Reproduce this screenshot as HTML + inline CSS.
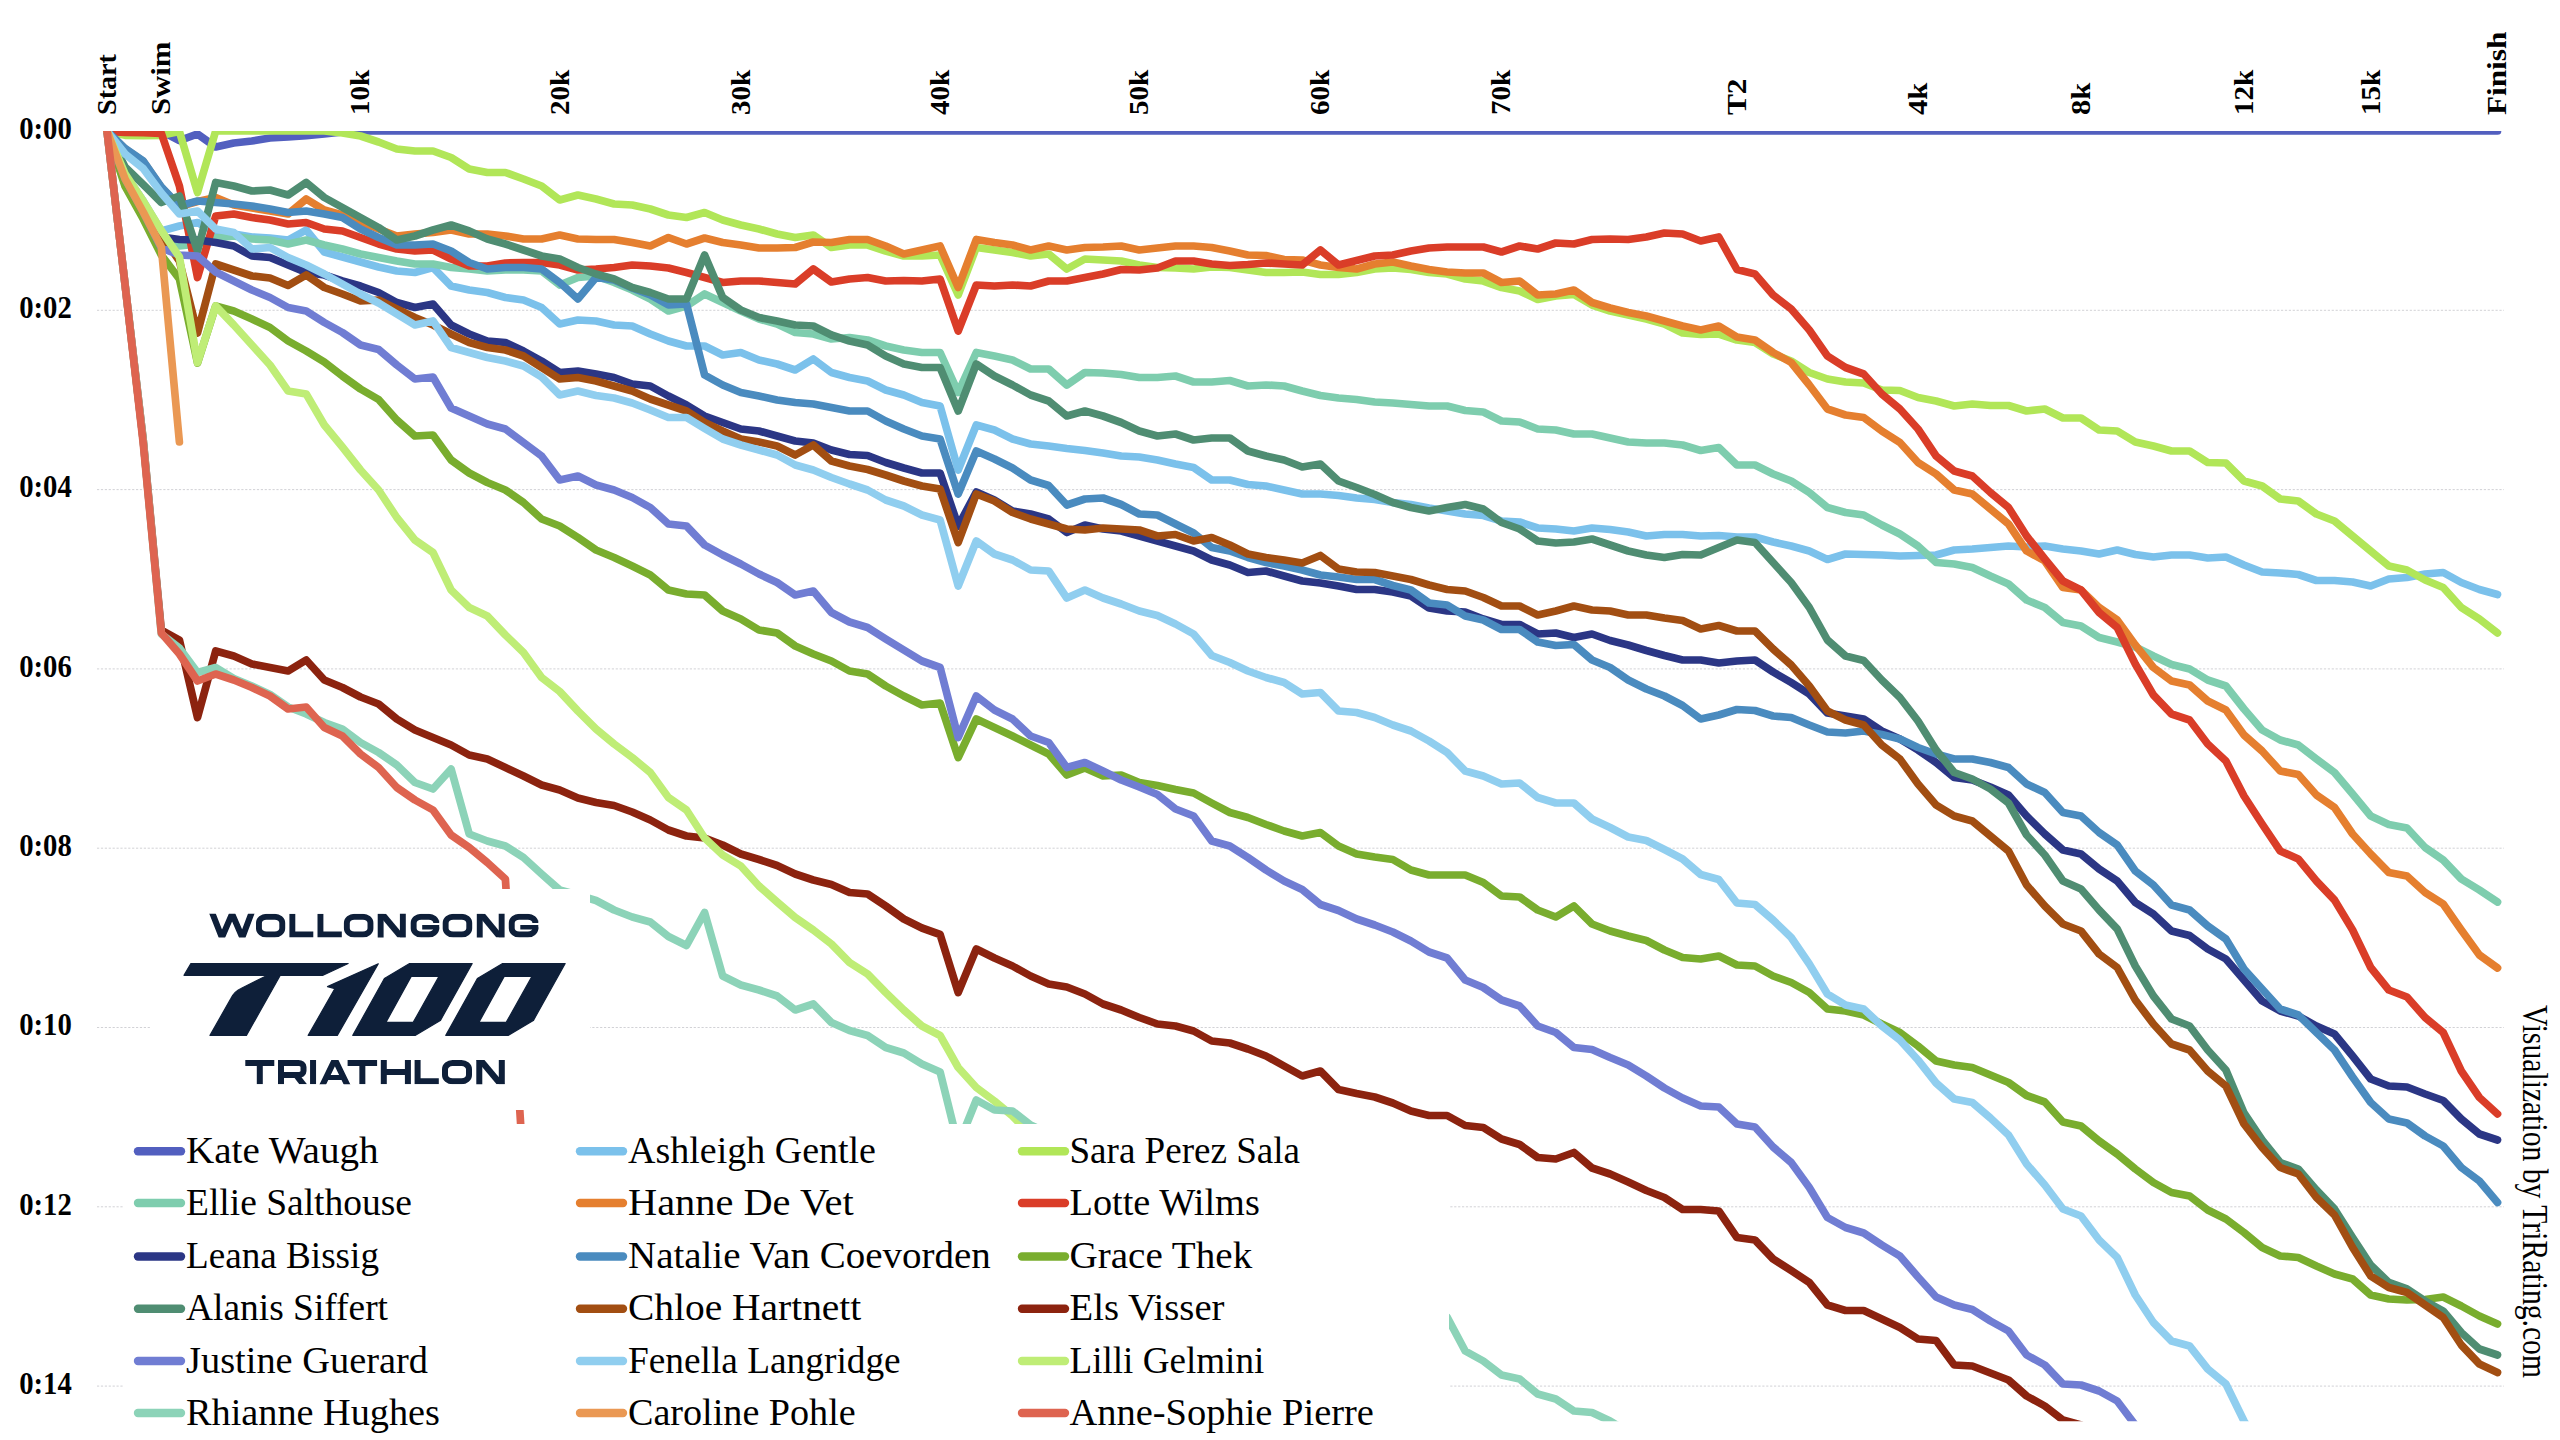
<!DOCTYPE html>
<html><head><meta charset="utf-8"><title>T100 Wollongong</title>
<style>
html,body{margin:0;padding:0;background:#fff}
body{width:2560px;height:1440px;overflow:hidden}
svg{display:block}
text{font-family:"Liberation Serif",serif}
.ax{font-weight:bold;font-size:28.2px;fill:#000}
.lg{font-size:38px;fill:#000}
</style></head><body>
<svg width="2560" height="1440" viewBox="0 0 2560 1440">
<defs><clipPath id="plot"><rect x="90" y="131" width="2420" height="1290.3"/></clipPath></defs>
<rect width="2560" height="1440" fill="#fff"/>
<g stroke="#cdcdd1" stroke-width="0.9" stroke-dasharray="2.2 1.7" fill="none">
<line x1="97" y1="310.3" x2="2504" y2="310.3"/>
<line x1="97" y1="489.6" x2="2504" y2="489.6"/>
<line x1="97" y1="668.9" x2="2504" y2="668.9"/>
<line x1="97" y1="848.2" x2="2504" y2="848.2"/>
<line x1="97" y1="1027.5" x2="2504" y2="1027.5"/>
<line x1="97" y1="1206.8" x2="2504" y2="1206.8"/>
<line x1="97" y1="1386.1" x2="2504" y2="1386.1"/>
</g>
<g clip-path="url(#plot)" fill="none" stroke-width="7.7" stroke-linecap="round" stroke-linejoin="round">
<polyline stroke="#525fbf" points="107.0,131.0 125.1,131.0 143.2,131.0 161.3,131.0 179.4,140.6 197.5,134.0 215.7,147.0 233.8,143.0 251.9,141.0 270.0,138.0 288.1,137.0 306.2,135.6 324.3,134.0 342.4,132.0 360.5,131.0 2497.5,131.0"/>
<polyline stroke="#7bc1eb" points="107.0,131.0 125.1,174.0 143.2,201.0 161.3,231.0 179.4,226.0 197.5,222.5 215.7,232.0 233.8,234.0 251.9,237.0 270.0,238.0 288.1,240.0 306.2,230.0 324.3,252.0 342.4,257.0 360.5,262.0 378.6,267.0 396.8,271.0 414.9,272.5 433.0,267.5 451.1,286.0 469.2,290.0 487.3,292.5 505.4,297.5 523.5,300.0 541.6,307.5 559.7,324.0 577.9,320.0 596.0,321.0 614.1,325.0 632.2,326.0 650.3,334.0 668.4,341.0 686.5,346.0 704.6,346.0 722.7,355.0 740.8,352.5 759.0,360.0 777.1,364.0 795.2,370.0 813.3,359.0 831.4,372.5 849.5,377.5 867.6,381.0 885.7,390.0 903.8,395.0 921.9,402.5 940.1,406.0 958.2,470.0 976.3,425.0 994.4,430.0 1012.5,439.0 1030.6,444.0 1048.7,446.0 1066.8,448.5 1084.9,450.5 1103.0,453.0 1121.2,456.0 1139.3,457.0 1157.4,460.0 1175.5,464.0 1193.6,467.5 1211.7,480.0 1229.8,480.0 1247.9,484.5 1266.0,486.0 1284.1,490.0 1302.2,494.0 1320.4,494.0 1338.5,495.5 1356.6,498.0 1374.7,499.5 1392.8,502.5 1410.9,504.5 1429.0,508.0 1447.1,511.0 1465.2,514.0 1483.3,515.5 1501.5,521.0 1519.6,522.0 1537.7,528.0 1555.8,529.0 1573.9,531.0 1592.0,528.0 1610.1,529.5 1628.2,532.0 1646.3,536.0 1664.4,534.5 1682.6,534.5 1700.7,536.0 1718.8,535.5 1736.9,537.0 1755.0,537.0 1773.1,542.0 1791.2,546.0 1809.3,551.0 1827.4,559.5 1845.5,554.0 1863.7,554.5 1881.8,555.0 1899.9,556.0 1918.0,555.5 1936.1,555.0 1954.2,550.0 1972.3,549.0 1990.4,547.5 2008.5,546.0 2026.6,547.0 2044.8,546.0 2062.9,549.0 2081.0,551.0 2099.1,554.0 2117.2,550.0 2135.3,554.5 2153.4,557.0 2171.5,555.0 2189.6,555.0 2207.7,558.0 2225.9,557.0 2244.0,565.0 2262.1,572.0 2280.2,573.0 2298.3,574.5 2316.4,580.5 2334.5,580.5 2352.6,582.0 2370.7,586.0 2388.8,579.0 2407.0,577.5 2425.1,574.0 2443.2,572.5 2461.3,582.5 2479.4,589.5 2497.5,594.5"/>
<polyline stroke="#b1e658" points="107.0,131.5 125.1,135.3 143.2,135.6 161.3,135.3 179.4,131.5 197.5,192.5 215.7,131.0 233.8,131.0 251.9,131.0 270.0,131.0 288.1,131.0 306.2,131.0 324.3,131.0 342.4,133.0 360.5,136.0 378.6,142.0 396.8,149.0 414.9,151.0 433.0,151.0 451.1,157.5 469.2,169.0 487.3,172.5 505.4,172.5 523.5,179.0 541.6,186.0 559.7,200.0 577.9,195.0 596.0,199.0 614.1,204.0 632.2,205.0 650.3,209.0 668.4,215.0 686.5,217.5 704.6,212.5 722.7,220.0 740.8,225.0 759.0,229.0 777.1,234.0 795.2,237.5 813.3,235.0 831.4,247.5 849.5,245.0 867.6,245.0 885.7,251.0 903.8,256.0 921.9,256.0 940.1,255.0 958.2,295.0 976.3,247.5 994.4,250.0 1012.5,252.5 1030.6,256.0 1048.7,254.0 1066.8,269.0 1084.9,259.0 1103.0,260.0 1121.2,261.0 1139.3,265.0 1157.4,267.5 1175.5,268.0 1193.6,269.0 1211.7,267.0 1229.8,267.5 1247.9,270.0 1266.0,272.5 1284.1,272.5 1302.2,272.0 1320.4,274.5 1338.5,274.5 1356.6,272.5 1374.7,269.0 1392.8,268.0 1410.9,269.5 1429.0,272.5 1447.1,274.0 1465.2,279.0 1483.3,281.0 1501.5,287.5 1519.6,291.0 1537.7,299.5 1555.8,296.0 1573.9,294.5 1592.0,305.0 1610.1,311.0 1628.2,315.0 1646.3,319.0 1664.4,324.0 1682.6,333.0 1700.7,334.5 1718.8,334.0 1736.9,340.0 1755.0,342.5 1773.1,354.0 1791.2,361.0 1809.3,372.5 1827.4,379.0 1845.5,382.0 1863.7,383.0 1881.8,390.0 1899.9,390.5 1918.0,397.5 1936.1,401.0 1954.2,406.0 1972.3,404.0 1990.4,405.5 2008.5,405.5 2026.6,411.0 2044.8,409.0 2062.9,418.0 2081.0,418.0 2099.1,430.0 2117.2,431.0 2135.3,442.0 2153.4,446.0 2171.5,451.0 2189.6,451.0 2207.7,462.5 2225.9,463.0 2244.0,481.0 2262.1,486.0 2280.2,499.0 2298.3,501.0 2316.4,514.0 2334.5,521.0 2352.6,536.0 2370.7,551.0 2388.8,566.0 2407.0,570.0 2425.1,580.0 2443.2,587.5 2461.3,607.5 2479.4,619.0 2497.5,633.0"/>
<polyline stroke="#7ecdae" points="107.0,131.0 125.1,179.0 143.2,212.0 161.3,244.0 179.4,246.0 197.5,244.0 215.7,238.0 233.8,236.0 251.9,239.0 270.0,240.0 288.1,244.0 306.2,240.0 324.3,245.0 342.4,249.0 360.5,254.0 378.6,257.5 396.8,261.0 414.9,264.0 433.0,264.0 451.1,267.5 469.2,269.0 487.3,271.0 505.4,270.0 523.5,270.0 541.6,271.0 559.7,285.0 577.9,277.5 596.0,276.0 614.1,282.5 632.2,290.0 650.3,299.0 668.4,311.0 686.5,306.0 704.6,294.0 722.7,302.5 740.8,311.0 759.0,319.0 777.1,324.0 795.2,332.5 813.3,334.0 831.4,339.0 849.5,337.5 867.6,340.0 885.7,346.0 903.8,350.0 921.9,352.5 940.1,352.5 958.2,392.5 976.3,352.5 994.4,356.0 1012.5,360.0 1030.6,369.0 1048.7,369.0 1066.8,385.0 1084.9,372.5 1103.0,373.0 1121.2,374.5 1139.3,377.5 1157.4,377.5 1175.5,376.0 1193.6,382.0 1211.7,382.0 1229.8,380.5 1247.9,386.0 1266.0,385.0 1284.1,386.0 1302.2,391.0 1320.4,395.5 1338.5,398.0 1356.6,399.5 1374.7,402.0 1392.8,403.0 1410.9,404.5 1429.0,406.0 1447.1,406.0 1465.2,410.5 1483.3,412.0 1501.5,421.0 1519.6,422.0 1537.7,429.0 1555.8,430.0 1573.9,434.0 1592.0,434.0 1610.1,438.0 1628.2,442.0 1646.3,443.0 1664.4,443.0 1682.6,445.0 1700.7,450.5 1718.8,447.5 1736.9,465.0 1755.0,465.0 1773.1,474.0 1791.2,481.0 1809.3,492.5 1827.4,507.5 1845.5,512.5 1863.7,515.0 1881.8,525.0 1899.9,534.0 1918.0,546.0 1936.1,562.5 1954.2,564.0 1972.3,567.5 1990.4,576.0 2008.5,584.0 2026.6,600.0 2044.8,607.5 2062.9,622.5 2081.0,626.0 2099.1,637.5 2117.2,642.0 2135.3,647.0 2153.4,656.0 2171.5,664.5 2189.6,669.0 2207.7,680.0 2225.9,686.0 2244.0,709.0 2262.1,730.0 2280.2,740.0 2298.3,745.0 2316.4,759.0 2334.5,772.5 2352.6,794.0 2370.7,816.0 2388.8,824.5 2407.0,828.0 2425.1,847.5 2443.2,860.0 2461.3,879.0 2479.4,890.0 2497.5,902.0"/>
<polyline stroke="#e57f2f" points="107.0,131.0 125.1,149.0 143.2,161.5 161.3,187.5 179.4,206.5 197.5,201.5 215.7,197.5 233.8,205.0 251.9,208.0 270.0,211.0 288.1,214.0 306.2,199.0 324.3,210.0 342.4,215.0 360.5,222.0 378.6,229.0 396.8,236.0 414.9,234.0 433.0,232.5 451.1,230.0 469.2,234.0 487.3,234.0 505.4,236.0 523.5,239.0 541.6,239.0 559.7,235.0 577.9,239.0 596.0,239.5 614.1,239.5 632.2,242.5 650.3,246.0 668.4,237.5 686.5,244.0 704.6,238.0 722.7,242.5 740.8,245.0 759.0,248.0 777.1,248.0 795.2,247.5 813.3,242.0 831.4,242.5 849.5,239.5 867.6,239.5 885.7,246.0 903.8,254.0 921.9,250.0 940.1,246.0 958.2,287.5 976.3,239.5 994.4,242.5 1012.5,245.0 1030.6,250.0 1048.7,246.0 1066.8,250.0 1084.9,247.5 1103.0,247.0 1121.2,246.0 1139.3,250.0 1157.4,248.0 1175.5,246.0 1193.6,246.0 1211.7,247.5 1229.8,251.0 1247.9,255.0 1266.0,255.5 1284.1,259.5 1302.2,260.0 1320.4,265.0 1338.5,267.5 1356.6,269.0 1374.7,264.0 1392.8,262.0 1410.9,266.0 1429.0,269.5 1447.1,272.0 1465.2,273.0 1483.3,273.0 1501.5,282.5 1519.6,281.0 1537.7,295.0 1555.8,294.0 1573.9,290.0 1592.0,302.5 1610.1,308.0 1628.2,312.5 1646.3,316.0 1664.4,321.0 1682.6,326.0 1700.7,330.0 1718.8,326.0 1736.9,337.0 1755.0,340.0 1773.1,352.5 1791.2,362.5 1809.3,385.0 1827.4,409.0 1845.5,415.0 1863.7,417.5 1881.8,431.0 1899.9,442.5 1918.0,462.5 1936.1,474.0 1954.2,490.0 1972.3,494.0 1990.4,509.0 2008.5,524.0 2026.6,551.0 2044.8,561.0 2062.9,587.5 2081.0,590.0 2099.1,607.5 2117.2,620.0 2135.3,645.0 2153.4,667.5 2171.5,681.0 2189.6,685.0 2207.7,701.0 2225.9,710.0 2244.0,735.0 2262.1,751.0 2280.2,771.0 2298.3,774.5 2316.4,795.0 2334.5,807.5 2352.6,834.0 2370.7,854.0 2388.8,872.5 2407.0,876.0 2425.1,892.5 2443.2,904.0 2461.3,930.0 2479.4,955.0 2497.5,968.0"/>
<polyline stroke="#da3d28" points="107.0,131.5 125.1,132.3 143.2,132.6 161.3,133.3 179.4,186.0 197.5,277.5 215.7,216.0 233.8,214.0 251.9,217.5 270.0,220.0 288.1,224.0 306.2,222.5 324.3,229.0 342.4,231.0 360.5,237.5 378.6,244.0 396.8,249.0 414.9,251.0 433.0,250.0 451.1,259.0 469.2,266.0 487.3,266.0 505.4,263.0 523.5,262.5 541.6,262.5 559.7,265.0 577.9,270.0 596.0,269.0 614.1,267.5 632.2,265.0 650.3,266.0 668.4,268.0 686.5,272.5 704.6,277.5 722.7,282.5 740.8,281.0 759.0,281.0 777.1,282.5 795.2,284.0 813.3,269.0 831.4,282.0 849.5,279.0 867.6,277.5 885.7,281.0 903.8,280.5 921.9,281.0 940.1,279.0 958.2,331.0 976.3,285.0 994.4,286.0 1012.5,285.0 1030.6,286.0 1048.7,281.0 1066.8,281.0 1084.9,277.5 1103.0,274.0 1121.2,269.5 1139.3,270.0 1157.4,268.0 1175.5,261.0 1193.6,261.0 1211.7,264.0 1229.8,265.5 1247.9,264.5 1266.0,263.0 1284.1,264.0 1302.2,265.0 1320.4,250.0 1338.5,265.0 1356.6,260.5 1374.7,256.0 1392.8,255.0 1410.9,251.0 1429.0,248.0 1447.1,247.0 1465.2,247.0 1483.3,247.0 1501.5,252.0 1519.6,246.0 1537.7,249.0 1555.8,243.0 1573.9,244.0 1592.0,239.5 1610.1,239.0 1628.2,239.5 1646.3,237.0 1664.4,233.0 1682.6,234.0 1700.7,241.0 1718.8,237.0 1736.9,269.5 1755.0,274.0 1773.1,295.0 1791.2,309.0 1809.3,330.0 1827.4,356.0 1845.5,367.5 1863.7,374.0 1881.8,394.0 1899.9,409.0 1918.0,429.0 1936.1,456.0 1954.2,471.0 1972.3,476.0 1990.4,492.5 2008.5,507.5 2026.6,536.0 2044.8,559.0 2062.9,581.0 2081.0,590.0 2099.1,612.5 2117.2,627.5 2135.3,664.0 2153.4,695.0 2171.5,714.0 2189.6,720.0 2207.7,744.0 2225.9,761.0 2244.0,796.0 2262.1,824.0 2280.2,851.0 2298.3,859.0 2316.4,881.0 2334.5,900.0 2352.6,930.0 2370.7,967.5 2388.8,990.0 2407.0,997.0 2425.1,1017.5 2443.2,1032.5 2461.3,1071.0 2479.4,1097.5 2497.5,1114.0"/>
<polyline stroke="#2b3685" points="107.0,131.0 125.1,176.0 143.2,205.0 161.3,237.0 179.4,239.5 197.5,240.0 215.7,242.5 233.8,246.0 251.9,256.0 270.0,257.5 288.1,265.0 306.2,272.5 324.3,275.0 342.4,281.0 360.5,286.0 378.6,292.5 396.8,302.5 414.9,307.5 433.0,304.0 451.1,325.0 469.2,334.0 487.3,341.0 505.4,342.5 523.5,351.0 541.6,361.0 559.7,372.5 577.9,371.0 596.0,374.0 614.1,377.5 632.2,384.0 650.3,386.0 668.4,396.0 686.5,405.0 704.6,416.0 722.7,422.5 740.8,429.0 759.0,431.0 777.1,436.0 795.2,441.0 813.3,443.0 831.4,450.0 849.5,454.5 867.6,455.5 885.7,462.5 903.8,468.0 921.9,473.0 940.1,473.0 958.2,526.0 976.3,492.0 994.4,500.0 1012.5,511.0 1030.6,514.0 1048.7,519.0 1066.8,532.5 1084.9,525.0 1103.0,529.0 1121.2,531.0 1139.3,536.0 1157.4,541.0 1175.5,546.0 1193.6,551.0 1211.7,560.0 1229.8,565.0 1247.9,572.5 1266.0,571.0 1284.1,576.0 1302.2,581.0 1320.4,583.0 1338.5,586.0 1356.6,589.5 1374.7,589.5 1392.8,592.0 1410.9,596.0 1429.0,608.0 1447.1,611.0 1465.2,612.0 1483.3,619.0 1501.5,624.5 1519.6,624.5 1537.7,634.0 1555.8,633.0 1573.9,637.5 1592.0,634.0 1610.1,640.5 1628.2,645.0 1646.3,650.5 1664.4,655.5 1682.6,660.0 1700.7,660.0 1718.8,663.0 1736.9,661.0 1755.0,660.0 1773.1,672.0 1791.2,682.5 1809.3,694.0 1827.4,713.0 1845.5,716.0 1863.7,719.0 1881.8,731.0 1899.9,739.0 1918.0,750.0 1936.1,762.5 1954.2,777.5 1972.3,780.0 1990.4,787.0 2008.5,795.0 2026.6,816.0 2044.8,834.0 2062.9,850.0 2081.0,854.0 2099.1,869.0 2117.2,881.0 2135.3,902.5 2153.4,914.0 2171.5,931.0 2189.6,935.5 2207.7,949.0 2225.9,959.0 2244.0,980.0 2262.1,1001.0 2280.2,1011.0 2298.3,1016.0 2316.4,1026.0 2334.5,1034.0 2352.6,1056.0 2370.7,1079.0 2388.8,1086.0 2407.0,1087.0 2425.1,1094.0 2443.2,1100.5 2461.3,1119.0 2479.4,1134.0 2497.5,1140.0"/>
<polyline stroke="#4a8bbf" points="107.0,131.0 125.1,148.5 143.2,161.0 161.3,187.0 179.4,206.0 197.5,201.0 215.7,202.5 233.8,204.0 251.9,206.0 270.0,209.0 288.1,212.5 306.2,211.0 324.3,214.0 342.4,217.5 360.5,229.0 378.6,237.5 396.8,245.0 414.9,245.0 433.0,244.0 451.1,251.0 469.2,262.5 487.3,269.0 505.4,267.5 523.5,267.5 541.6,269.0 559.7,282.5 577.9,299.0 596.0,277.5 614.1,280.0 632.2,288.0 650.3,295.0 668.4,305.0 686.5,304.0 704.6,375.0 722.7,385.0 740.8,392.5 759.0,396.0 777.1,400.0 795.2,402.5 813.3,404.0 831.4,407.5 849.5,411.0 867.6,411.0 885.7,421.0 903.8,429.0 921.9,436.0 940.1,439.0 958.2,494.0 976.3,451.0 994.4,459.0 1012.5,468.0 1030.6,480.0 1048.7,485.5 1066.8,505.0 1084.9,499.0 1103.0,498.0 1121.2,504.5 1139.3,514.0 1157.4,515.0 1175.5,524.0 1193.6,533.0 1211.7,547.5 1229.8,551.0 1247.9,557.5 1266.0,562.5 1284.1,566.0 1302.2,570.0 1320.4,575.0 1338.5,577.0 1356.6,579.5 1374.7,579.5 1392.8,585.5 1410.9,590.0 1429.0,603.0 1447.1,605.0 1465.2,616.0 1483.3,620.0 1501.5,629.5 1519.6,629.5 1537.7,642.0 1555.8,645.5 1573.9,644.5 1592.0,660.0 1610.1,667.5 1628.2,680.0 1646.3,689.0 1664.4,696.0 1682.6,705.5 1700.7,719.0 1718.8,715.0 1736.9,709.5 1755.0,710.5 1773.1,716.0 1791.2,717.5 1809.3,725.0 1827.4,732.0 1845.5,733.0 1863.7,731.0 1881.8,734.5 1899.9,739.0 1918.0,747.5 1936.1,754.0 1954.2,759.0 1972.3,759.0 1990.4,762.5 2008.5,767.5 2026.6,784.0 2044.8,792.5 2062.9,812.5 2081.0,816.0 2099.1,832.5 2117.2,845.0 2135.3,871.0 2153.4,885.0 2171.5,905.0 2189.6,910.0 2207.7,926.0 2225.9,939.0 2244.0,969.0 2262.1,989.0 2280.2,1009.0 2298.3,1015.0 2316.4,1032.5 2334.5,1050.0 2352.6,1077.0 2370.7,1102.5 2388.8,1119.0 2407.0,1123.0 2425.1,1136.0 2443.2,1146.0 2461.3,1167.5 2479.4,1181.0 2497.5,1202.5"/>
<polyline stroke="#79ad2e" points="107.0,131.0 125.1,186.5 143.2,219.0 161.3,255.0 179.4,279.0 197.5,363.0 215.7,306.0 233.8,311.0 251.9,319.0 270.0,327.5 288.1,341.0 306.2,351.0 324.3,362.0 342.4,376.0 360.5,389.0 378.6,399.5 396.8,420.0 414.9,436.0 433.0,435.0 451.1,460.0 469.2,473.0 487.3,482.5 505.4,490.0 523.5,502.5 541.6,519.0 559.7,526.0 577.9,537.5 596.0,550.0 614.1,557.5 632.2,566.0 650.3,575.0 668.4,590.0 686.5,594.0 704.6,595.0 722.7,611.0 740.8,619.0 759.0,630.0 777.1,633.0 795.2,646.0 813.3,654.0 831.4,661.0 849.5,671.0 867.6,674.0 885.7,686.0 903.8,696.0 921.9,705.0 940.1,703.0 958.2,757.5 976.3,719.0 994.4,727.5 1012.5,736.0 1030.6,745.0 1048.7,754.0 1066.8,775.0 1084.9,768.0 1103.0,776.0 1121.2,775.0 1139.3,782.5 1157.4,785.5 1175.5,789.5 1193.6,793.0 1211.7,803.0 1229.8,812.5 1247.9,817.5 1266.0,824.5 1284.1,831.0 1302.2,836.0 1320.4,832.5 1338.5,846.0 1356.6,854.0 1374.7,857.0 1392.8,859.5 1410.9,870.0 1429.0,875.0 1447.1,875.0 1465.2,875.0 1483.3,882.5 1501.5,896.0 1519.6,897.0 1537.7,910.0 1555.8,917.0 1573.9,906.0 1592.0,924.0 1610.1,931.0 1628.2,936.0 1646.3,940.5 1664.4,950.0 1682.6,957.5 1700.7,959.0 1718.8,956.0 1736.9,965.0 1755.0,966.0 1773.1,976.0 1791.2,982.5 1809.3,992.5 1827.4,1009.0 1845.5,1011.0 1863.7,1015.0 1881.8,1024.0 1899.9,1032.5 1918.0,1046.0 1936.1,1061.0 1954.2,1065.0 1972.3,1067.5 1990.4,1075.0 2008.5,1082.5 2026.6,1095.5 2044.8,1102.0 2062.9,1122.0 2081.0,1126.0 2099.1,1141.0 2117.2,1154.0 2135.3,1169.0 2153.4,1182.5 2171.5,1192.5 2189.6,1196.0 2207.7,1210.0 2225.9,1219.0 2244.0,1232.5 2262.1,1247.5 2280.2,1256.0 2298.3,1257.5 2316.4,1266.0 2334.5,1274.0 2352.6,1279.0 2370.7,1295.0 2388.8,1299.0 2407.0,1300.0 2425.1,1299.5 2443.2,1297.0 2461.3,1306.0 2479.4,1316.0 2497.5,1324.0"/>
<polyline stroke="#4f8d72" points="107.0,131.0 125.1,167.0 143.2,184.5 161.3,202.5 179.4,196.0 197.5,251.0 215.7,182.5 233.8,186.0 251.9,191.0 270.0,190.0 288.1,195.0 306.2,182.5 324.3,197.5 342.4,207.5 360.5,217.5 378.6,227.5 396.8,240.0 414.9,236.0 433.0,230.0 451.1,225.0 469.2,231.0 487.3,239.0 505.4,244.0 523.5,250.0 541.6,256.0 559.7,259.0 577.9,267.5 596.0,274.0 614.1,279.0 632.2,287.5 650.3,292.5 668.4,299.0 686.5,299.0 704.6,255.0 722.7,297.5 740.8,310.0 759.0,317.5 777.1,321.0 795.2,325.0 813.3,326.0 831.4,335.0 849.5,341.0 867.6,345.0 885.7,356.0 903.8,364.0 921.9,367.5 940.1,367.5 958.2,411.0 976.3,364.0 994.4,376.0 1012.5,385.0 1030.6,395.0 1048.7,401.0 1066.8,416.0 1084.9,411.0 1103.0,416.0 1121.2,422.5 1139.3,431.0 1157.4,436.0 1175.5,434.0 1193.6,440.0 1211.7,438.0 1229.8,438.0 1247.9,451.0 1266.0,456.0 1284.1,460.0 1302.2,467.0 1320.4,464.0 1338.5,481.0 1356.6,487.5 1374.7,494.5 1392.8,502.5 1410.9,507.5 1429.0,511.0 1447.1,507.5 1465.2,504.5 1483.3,509.0 1501.5,522.5 1519.6,529.0 1537.7,541.0 1555.8,543.0 1573.9,542.0 1592.0,539.0 1610.1,545.0 1628.2,551.0 1646.3,555.0 1664.4,557.5 1682.6,554.5 1700.7,555.0 1718.8,547.5 1736.9,540.0 1755.0,542.5 1773.1,562.5 1791.2,582.5 1809.3,607.5 1827.4,640.0 1845.5,656.0 1863.7,660.5 1881.8,680.0 1899.9,697.5 1918.0,721.0 1936.1,750.0 1954.2,772.5 1972.3,779.0 1990.4,789.0 2008.5,803.0 2026.6,835.0 2044.8,855.0 2062.9,881.0 2081.0,889.0 2099.1,910.0 2117.2,929.0 2135.3,966.0 2153.4,996.0 2171.5,1019.0 2189.6,1026.0 2207.7,1050.0 2225.9,1070.0 2244.0,1113.0 2262.1,1140.0 2280.2,1162.5 2298.3,1169.0 2316.4,1190.0 2334.5,1209.0 2352.6,1237.5 2370.7,1265.0 2388.8,1282.5 2407.0,1289.0 2425.1,1301.0 2443.2,1311.0 2461.3,1332.5 2479.4,1349.0 2497.5,1355.0"/>
<polyline stroke="#a24e12" points="107.0,131.0 125.1,177.0 143.2,206.0 161.3,235.0 179.4,261.0 197.5,333.0 215.7,264.0 233.8,270.0 251.9,276.0 270.0,278.0 288.1,285.5 306.2,275.0 324.3,287.5 342.4,294.0 360.5,301.0 378.6,300.0 396.8,309.0 414.9,317.5 433.0,325.0 451.1,334.0 469.2,342.5 487.3,347.5 505.4,350.0 523.5,356.0 541.6,367.5 559.7,379.0 577.9,377.5 596.0,381.0 614.1,386.0 632.2,391.0 650.3,399.0 668.4,405.0 686.5,411.0 704.6,422.5 722.7,431.0 740.8,439.0 759.0,442.0 777.1,446.0 795.2,455.0 813.3,445.0 831.4,461.0 849.5,466.0 867.6,469.5 885.7,475.0 903.8,481.0 921.9,486.0 940.1,489.0 958.2,542.5 976.3,494.0 994.4,501.0 1012.5,512.5 1030.6,519.0 1048.7,524.0 1066.8,529.0 1084.9,530.0 1103.0,528.0 1121.2,529.0 1139.3,530.0 1157.4,536.0 1175.5,534.5 1193.6,541.0 1211.7,537.5 1229.8,545.0 1247.9,554.0 1266.0,557.5 1284.1,560.0 1302.2,563.0 1320.4,555.5 1338.5,569.0 1356.6,572.0 1374.7,572.5 1392.8,576.0 1410.9,579.5 1429.0,585.0 1447.1,589.5 1465.2,591.0 1483.3,597.5 1501.5,606.0 1519.6,606.0 1537.7,615.0 1555.8,611.0 1573.9,606.0 1592.0,610.0 1610.1,611.0 1628.2,615.0 1646.3,615.0 1664.4,618.0 1682.6,620.5 1700.7,629.0 1718.8,625.5 1736.9,631.0 1755.0,631.0 1773.1,649.0 1791.2,665.0 1809.3,686.0 1827.4,711.0 1845.5,720.0 1863.7,725.0 1881.8,745.0 1899.9,759.0 1918.0,784.0 1936.1,805.0 1954.2,816.0 1972.3,821.0 1990.4,836.0 2008.5,851.0 2026.6,885.0 2044.8,906.0 2062.9,924.0 2081.0,931.0 2099.1,954.0 2117.2,967.5 2135.3,1000.0 2153.4,1024.0 2171.5,1044.0 2189.6,1050.0 2207.7,1071.0 2225.9,1086.0 2244.0,1124.0 2262.1,1147.5 2280.2,1167.5 2298.3,1174.0 2316.4,1197.5 2334.5,1215.0 2352.6,1247.5 2370.7,1276.0 2388.8,1287.5 2407.0,1292.5 2425.1,1305.0 2443.2,1317.5 2461.3,1345.0 2479.4,1364.0 2497.5,1372.5"/>
<polyline stroke="#8c230f" points="107.0,131.0 125.1,285.0 143.2,440.0 161.3,630.0 179.4,640.0 197.5,717.5 215.7,651.0 233.8,656.0 251.9,664.0 270.0,667.5 288.1,671.0 306.2,660.0 324.3,680.0 342.4,687.5 360.5,697.0 378.6,704.0 396.8,719.0 414.9,730.0 433.0,737.5 451.1,745.0 469.2,755.0 487.3,759.0 505.4,767.5 523.5,776.0 541.6,785.0 559.7,790.0 577.9,798.0 596.0,802.5 614.1,805.5 632.2,812.0 650.3,820.0 668.4,830.0 686.5,836.0 704.6,838.0 722.7,845.0 740.8,854.0 759.0,859.5 777.1,865.5 795.2,874.0 813.3,880.0 831.4,884.5 849.5,892.5 867.6,894.0 885.7,906.0 903.8,919.0 921.9,928.0 940.1,934.5 958.2,992.5 976.3,949.0 994.4,958.0 1012.5,966.0 1030.6,976.0 1048.7,984.0 1066.8,987.0 1084.9,994.0 1103.0,1004.0 1121.2,1010.0 1139.3,1017.5 1157.4,1024.0 1175.5,1026.0 1193.6,1031.0 1211.7,1041.0 1229.8,1043.0 1247.9,1049.0 1266.0,1056.0 1284.1,1066.0 1302.2,1076.0 1320.4,1071.0 1338.5,1089.5 1356.6,1093.5 1374.7,1097.0 1392.8,1103.0 1410.9,1111.0 1429.0,1115.5 1447.1,1115.5 1465.2,1125.5 1483.3,1127.5 1501.5,1139.0 1519.6,1144.5 1537.7,1157.5 1555.8,1159.0 1573.9,1152.5 1592.0,1168.0 1610.1,1174.0 1628.2,1182.0 1646.3,1190.5 1664.4,1197.5 1682.6,1209.5 1700.7,1209.5 1718.8,1211.0 1736.9,1237.5 1755.0,1240.0 1773.1,1259.0 1791.2,1270.5 1809.3,1282.5 1827.4,1305.0 1845.5,1310.5 1863.7,1310.5 1881.8,1319.0 1899.9,1327.5 1918.0,1339.0 1936.1,1340.5 1954.2,1365.0 1972.3,1366.0 1990.4,1373.0 2008.5,1380.0 2026.6,1396.0 2044.8,1406.0 2062.9,1420.0 2081.0,1425.0 2099.1,1440.0"/>
<polyline stroke="#707dd3" points="107.0,131.0 125.1,179.0 143.2,212.0 161.3,248.0 179.4,255.0 197.5,256.0 215.7,272.0 233.8,281.0 251.9,290.0 270.0,297.5 288.1,307.5 306.2,311.0 324.3,322.5 342.4,332.5 360.5,345.0 378.6,349.5 396.8,365.0 414.9,379.0 433.0,377.0 451.1,408.0 469.2,416.0 487.3,424.0 505.4,429.0 523.5,442.5 541.6,456.0 559.7,480.0 577.9,476.0 596.0,485.0 614.1,490.0 632.2,497.5 650.3,507.5 668.4,524.0 686.5,526.0 704.6,545.0 722.7,555.0 740.8,564.0 759.0,574.0 777.1,582.5 795.2,595.0 813.3,591.0 831.4,612.5 849.5,622.0 867.6,627.5 885.7,639.0 903.8,650.0 921.9,661.0 940.1,667.5 958.2,737.5 976.3,696.0 994.4,710.0 1012.5,719.0 1030.6,736.0 1048.7,742.5 1066.8,767.5 1084.9,762.5 1103.0,771.0 1121.2,780.0 1139.3,787.0 1157.4,794.5 1175.5,809.0 1193.6,816.0 1211.7,841.0 1229.8,846.0 1247.9,857.5 1266.0,870.0 1284.1,881.0 1302.2,889.5 1320.4,904.5 1338.5,910.5 1356.6,919.0 1374.7,925.0 1392.8,932.0 1410.9,941.0 1429.0,952.0 1447.1,958.0 1465.2,980.0 1483.3,987.5 1501.5,1000.0 1519.6,1006.0 1537.7,1026.0 1555.8,1032.5 1573.9,1047.5 1592.0,1049.5 1610.1,1057.5 1628.2,1065.0 1646.3,1076.0 1664.4,1088.0 1682.6,1098.0 1700.7,1106.0 1718.8,1107.0 1736.9,1124.0 1755.0,1127.0 1773.1,1147.0 1791.2,1162.5 1809.3,1187.5 1827.4,1217.5 1845.5,1227.5 1863.7,1233.0 1881.8,1245.0 1899.9,1256.0 1918.0,1277.0 1936.1,1297.0 1954.2,1305.0 1972.3,1309.5 1990.4,1321.0 2008.5,1331.0 2026.6,1355.0 2044.8,1365.0 2062.9,1384.0 2081.0,1385.0 2099.1,1391.0 2117.2,1401.0 2135.3,1425.0 2153.4,1445.0"/>
<polyline stroke="#90ceef" points="107.0,131.0 125.1,154.0 143.2,168.5 161.3,193.0 179.4,214.0 197.5,211.0 215.7,229.0 233.8,232.5 251.9,249.0 270.0,247.5 288.1,257.5 306.2,265.0 324.3,274.0 342.4,284.0 360.5,294.0 378.6,303.0 396.8,314.0 414.9,325.0 433.0,321.0 451.1,347.5 469.2,352.5 487.3,357.5 505.4,361.0 523.5,366.0 541.6,377.0 559.7,395.0 577.9,391.0 596.0,395.5 614.1,398.0 632.2,403.0 650.3,410.0 668.4,417.5 686.5,417.5 704.6,428.5 722.7,439.0 740.8,445.0 759.0,450.0 777.1,455.0 795.2,465.0 813.3,470.0 831.4,477.5 849.5,484.0 867.6,490.0 885.7,500.0 903.8,506.0 921.9,515.0 940.1,520.0 958.2,586.0 976.3,541.0 994.4,554.0 1012.5,560.0 1030.6,570.0 1048.7,571.0 1066.8,598.0 1084.9,590.0 1103.0,598.0 1121.2,604.0 1139.3,611.0 1157.4,615.5 1175.5,624.0 1193.6,634.0 1211.7,655.5 1229.8,662.5 1247.9,671.0 1266.0,677.5 1284.1,682.5 1302.2,694.0 1320.4,692.5 1338.5,711.0 1356.6,712.5 1374.7,717.5 1392.8,725.0 1410.9,731.0 1429.0,741.0 1447.1,752.5 1465.2,771.0 1483.3,776.0 1501.5,784.0 1519.6,783.0 1537.7,797.5 1555.8,803.0 1573.9,803.0 1592.0,819.0 1610.1,827.5 1628.2,837.0 1646.3,840.5 1664.4,849.5 1682.6,859.0 1700.7,874.5 1718.8,879.5 1736.9,903.0 1755.0,904.5 1773.1,920.0 1791.2,937.5 1809.3,964.0 1827.4,994.0 1845.5,1005.0 1863.7,1009.0 1881.8,1026.0 1899.9,1040.0 1918.0,1060.0 1936.1,1083.0 1954.2,1099.0 1972.3,1102.5 1990.4,1118.0 2008.5,1135.0 2026.6,1164.0 2044.8,1185.0 2062.9,1209.0 2081.0,1216.0 2099.1,1240.0 2117.2,1257.5 2135.3,1295.0 2153.4,1322.5 2171.5,1341.0 2189.6,1346.0 2207.7,1369.0 2225.9,1384.0 2244.0,1421.0 2262.1,1450.0"/>
<polyline stroke="#bfed76" points="107.0,131.0 125.1,174.0 143.2,201.0 161.3,230.5 179.4,257.0 197.5,362.5 215.7,306.0 233.8,325.0 251.9,345.0 270.0,365.0 288.1,391.0 306.2,394.0 324.3,425.0 342.4,447.0 360.5,470.0 378.6,490.0 396.8,517.5 414.9,540.0 433.0,552.5 451.1,590.0 469.2,607.5 487.3,616.0 505.4,635.0 523.5,652.5 541.6,677.5 559.7,691.5 577.9,711.0 596.0,729.0 614.1,744.0 632.2,757.5 650.3,772.5 668.4,797.5 686.5,810.0 704.6,838.0 722.7,855.0 740.8,866.0 759.0,886.0 777.1,902.0 795.2,917.5 813.3,930.0 831.4,944.0 849.5,962.5 867.6,974.0 885.7,992.5 903.8,1010.0 921.9,1026.0 940.1,1035.5 958.2,1067.5 976.3,1087.5 994.4,1101.0 1012.5,1116.0 1030.6,1135.0 1048.7,1150.0"/>
<polyline stroke="#8cd3b8" points="107.0,131.0 125.1,285.0 143.2,440.0 161.3,634.0 179.4,648.0 197.5,672.5 215.7,667.5 233.8,678.5 251.9,686.0 270.0,694.5 288.1,707.0 306.2,714.0 324.3,722.5 342.4,729.0 360.5,742.5 378.6,752.5 396.8,765.0 414.9,782.5 433.0,789.0 451.1,769.0 469.2,834.0 487.3,841.0 505.4,846.0 523.5,857.5 541.6,874.0 559.7,890.0 577.9,895.0 596.0,900.5 614.1,910.0 632.2,917.0 650.3,922.0 668.4,936.5 686.5,945.5 704.6,912.5 722.7,976.0 740.8,985.0 759.0,990.0 777.1,996.0 795.2,1010.0 813.3,1004.0 831.4,1022.5 849.5,1030.5 867.6,1035.5 885.7,1047.5 903.8,1053.0 921.9,1064.0 940.1,1072.0 958.2,1145.0 976.3,1100.0 994.4,1110.0 1012.5,1111.0 1030.6,1125.0 1447.1,1317.0 1465.2,1351.0 1483.3,1361.0 1501.5,1375.0 1519.6,1379.0 1537.7,1394.0 1555.8,1399.0 1573.9,1411.0 1592.0,1412.5 1610.1,1421.0 1628.2,1432.0"/>
<polyline stroke="#ea9853" points="107.0,131.0 125.1,179.0 143.2,212.0 161.3,247.0 179.4,442.0"/>
<polyline stroke="#de6450" points="107.0,131.0 125.1,285.0 143.2,443.0 161.3,633.0 179.4,654.0 197.5,681.0 215.7,674.0 233.8,680.0 251.9,687.5 270.0,696.0 288.1,709.0 306.2,707.0 324.3,727.5 342.4,736.0 360.5,754.0 378.6,767.5 396.8,787.5 414.9,800.0 433.0,810.0 451.1,835.0 469.2,847.5 487.3,862.5 505.4,879.0 523.5,1170.0"/>
</g>
<rect x="151" y="889" width="439" height="221" fill="#fff"/>
<rect x="123" y="1124" width="1326" height="316" fill="#fff"/>
<clipPath id="lc0"><rect x="150" y="913.8" width="440" height="23.700000000000045"/></clipPath>
<g clip-path="url(#lc0)" fill="none" stroke="#0e1f39" stroke-width="5.9" stroke-linejoin="miter" stroke-miterlimit="10">
<polyline stroke-width="6.1" points="210.74,909.06 221.90,937.50 232.10,913.80 242.30,937.50 252.98,909.06"/>
<rect x="258.95" y="916.75" width="23.30" height="17.80" rx="7.5" ry="6.3"/>
<path d="M292.35,913.8 V934.55 H313.30"/>
<path d="M320.45,913.8 V934.55 H341.80"/>
<rect x="346.85" y="916.75" width="23.60" height="17.80" rx="7.5" ry="6.3"/>
<path d="M380.65,941.5 V913.8 M402.85,909.8 V937.5"/>
<path stroke="none" fill="#0e1f39" d="M377.70,913.8 H385.90 L405.80,937.5 H397.60 Z"/>
<path d="M436.25,920.40 V923.05 A7.5 6.3 0 0 0 428.75,916.75 H421.15 A7.5 6.3 0 0 0 413.65,923.05 V928.25 A7.5 6.3 0 0 0 421.15,934.55 H428.75 A7.5 6.3 0 0 0 436.25,928.25 V927.19"/>
<path stroke-width="4.4" d="M422.20,927.19 H439.20"/>
<rect x="445.65" y="916.75" width="23.60" height="17.80" rx="7.5" ry="6.3"/>
<path d="M479.75,941.5 V913.8 M501.65,909.8 V937.5"/>
<path stroke="none" fill="#0e1f39" d="M476.80,913.8 H485.00 L504.60,937.5 H496.40 Z"/>
<path d="M535.35,920.40 V923.05 A7.5 6.3 0 0 0 527.85,916.75 H519.25 A7.5 6.3 0 0 0 511.75,923.05 V928.25 A7.5 6.3 0 0 0 519.25,934.55 H527.85 A7.5 6.3 0 0 0 535.35,928.25 V927.19"/>
<path stroke-width="4.4" d="M520.30,927.19 H538.30"/>
</g>
<clipPath id="lc1"><rect x="150" y="1060.0" width="440" height="24.299999999999955"/></clipPath>
<g clip-path="url(#lc1)" fill="none" stroke="#0e1f39" stroke-width="6.0" stroke-linejoin="miter" stroke-miterlimit="10">
<path d="M245.3,1063.00 H274.3 M259.80,1060.0 V1084.3"/>
<path d="M281.00,1084.3 V1063.00 H298.50 A5.0 4.0 0 0 1 303.50,1067.00 V1071.07 A5.0 4.0 0 0 1 298.50,1075.07 H281.00"/>
<path stroke="none" fill="#0e1f39" d="M291.50,1074.07 H299.00 L307.00,1084.3 H299.30 Z"/>
<path d="M313.05,1060.0 V1084.3"/>
<polyline stroke-miterlimit="1.5" points="321.40,1087.30 334.90,1059.50 348.40,1087.30"/>
<path stroke-width="4.8" d="M326.60,1077.50 H343.20"/>
<path d="M347.6,1063.00 H377.1 M362.35,1060.0 V1084.3"/>
<path d="M383.80,1060.0 V1084.3 M407.90,1060.0 V1084.3 M383.80,1071.95 H407.90"/>
<path d="M417.60,1060.0 V1081.30 H438.80"/>
<rect x="445.00" y="1063.00" width="24.00" height="18.30" rx="7.5" ry="6.3"/>
<path d="M479.30,1088.3 V1060.0 M501.80,1056.0 V1084.3"/>
<path stroke="none" fill="#0e1f39" d="M476.30,1060.0 H484.50 L504.80,1084.3 H496.60 Z"/>
</g>
<g fill="#0e1f39" stroke="#0e1f39" stroke-width="1.2" stroke-linejoin="round">
<path d="M190.9,963.5 L348.2,963.5 L323,975.3 L280.3,975.3 L246.4,1035.4 L210,1035.4 L231,998.3 Q234.5,991.3 241,988.5 L267.5,975.3 L184,975.3 Z"/>
<path d="M378.3,963.8 L337.3,1035.4 L308.2,1035.4 L334.9,988.6 L327.5,986.6 Z"/>
<path fill-rule="evenodd" d="M409.6,963.5 L472.2,963.5 L440.3,1020.6 L415.1,1035.4 L352.8,1035.4 L384.4,978.5 Z M411.2,976.4 L385.9,1022.4 L413.2,1022.4 L439,976.4 Z"/>
<path fill-rule="evenodd" transform="translate(93,0)" d="M409.6,963.5 L472.2,963.5 L440.3,1020.6 L415.1,1035.4 L352.8,1035.4 L384.4,978.5 Z M411.2,976.4 L385.9,1022.4 L413.2,1022.4 L439,976.4 Z"/>
</g>

<g stroke-width="8.4" stroke-linecap="round">
<line x1="138" y1="1151.3" x2="181" y2="1151.3" stroke="#525fbf"/>
<line x1="580" y1="1151.3" x2="623" y2="1151.3" stroke="#7bc1eb"/>
<line x1="1022" y1="1151.3" x2="1065" y2="1151.3" stroke="#b1e658"/>
<line x1="138" y1="1203" x2="181" y2="1203" stroke="#7ecdae"/>
<line x1="580" y1="1203" x2="623" y2="1203" stroke="#e57f2f"/>
<line x1="1022" y1="1203" x2="1065" y2="1203" stroke="#da3d28"/>
<line x1="138" y1="1256.5" x2="181" y2="1256.5" stroke="#2b3685"/>
<line x1="580" y1="1256.5" x2="623" y2="1256.5" stroke="#4a8bbf"/>
<line x1="1022" y1="1256.5" x2="1065" y2="1256.5" stroke="#79ad2e"/>
<line x1="138" y1="1308.8" x2="181" y2="1308.8" stroke="#4f8d72"/>
<line x1="580" y1="1308.8" x2="623" y2="1308.8" stroke="#a24e12"/>
<line x1="1022" y1="1308.8" x2="1065" y2="1308.8" stroke="#8c230f"/>
<line x1="138" y1="1361" x2="181" y2="1361" stroke="#707dd3"/>
<line x1="580" y1="1361" x2="623" y2="1361" stroke="#90ceef"/>
<line x1="1022" y1="1361" x2="1065" y2="1361" stroke="#bfed76"/>
<line x1="138" y1="1413" x2="181" y2="1413" stroke="#8cd3b8"/>
<line x1="580" y1="1413" x2="623" y2="1413" stroke="#ea9853"/>
<line x1="1022" y1="1413" x2="1065" y2="1413" stroke="#de6450"/>
</g>
<text class="lg" x="186" y="1162.8" textLength="192.5" lengthAdjust="spacingAndGlyphs">Kate Waugh</text>
<text class="lg" x="628" y="1162.8" textLength="248" lengthAdjust="spacingAndGlyphs">Ashleigh Gentle</text>
<text class="lg" x="1069.5" y="1162.8" textLength="230.5" lengthAdjust="spacingAndGlyphs">Sara Perez Sala</text>
<text class="lg" x="186" y="1214.5" textLength="226" lengthAdjust="spacingAndGlyphs">Ellie Salthouse</text>
<text class="lg" x="628" y="1214.5" textLength="225.7" lengthAdjust="spacingAndGlyphs">Hanne De Vet</text>
<text class="lg" x="1069.5" y="1214.5" textLength="190.3" lengthAdjust="spacingAndGlyphs">Lotte Wilms</text>
<text class="lg" x="186" y="1268.0" textLength="193" lengthAdjust="spacingAndGlyphs">Leana Bissig</text>
<text class="lg" x="628" y="1268.0" textLength="362.7" lengthAdjust="spacingAndGlyphs">Natalie Van Coevorden</text>
<text class="lg" x="1069.5" y="1268.0" textLength="182.7" lengthAdjust="spacingAndGlyphs">Grace Thek</text>
<text class="lg" x="186" y="1320.3" textLength="202" lengthAdjust="spacingAndGlyphs">Alanis Siffert</text>
<text class="lg" x="628" y="1320.3" textLength="233.3" lengthAdjust="spacingAndGlyphs">Chloe Hartnett</text>
<text class="lg" x="1069.5" y="1320.3" textLength="155" lengthAdjust="spacingAndGlyphs">Els Visser</text>
<text class="lg" x="186" y="1372.5" textLength="242" lengthAdjust="spacingAndGlyphs">Justine Guerard</text>
<text class="lg" x="628" y="1372.5" textLength="272.7" lengthAdjust="spacingAndGlyphs">Fenella Langridge</text>
<text class="lg" x="1069.5" y="1372.5" textLength="194.8" lengthAdjust="spacingAndGlyphs">Lilli Gelmini</text>
<text class="lg" x="186" y="1424.5" textLength="254" lengthAdjust="spacingAndGlyphs">Rhianne Hughes</text>
<text class="lg" x="628" y="1424.5" textLength="227.7" lengthAdjust="spacingAndGlyphs">Caroline Pohle</text>
<text class="lg" x="1069.5" y="1424.5" textLength="304.4" lengthAdjust="spacingAndGlyphs">Anne-Sophie Pierre</text>
<text class="ax" style="font-size:31.8px" x="19.2" y="138.8" textLength="52.6" lengthAdjust="spacingAndGlyphs">0:00</text>
<text class="ax" style="font-size:31.8px" x="19.2" y="318.1" textLength="52.6" lengthAdjust="spacingAndGlyphs">0:02</text>
<text class="ax" style="font-size:31.8px" x="19.2" y="497.4" textLength="52.6" lengthAdjust="spacingAndGlyphs">0:04</text>
<text class="ax" style="font-size:31.8px" x="19.2" y="676.7" textLength="52.6" lengthAdjust="spacingAndGlyphs">0:06</text>
<text class="ax" style="font-size:31.8px" x="19.2" y="856.0" textLength="52.6" lengthAdjust="spacingAndGlyphs">0:08</text>
<text class="ax" style="font-size:31.8px" x="19.2" y="1035.3" textLength="52.6" lengthAdjust="spacingAndGlyphs">0:10</text>
<text class="ax" style="font-size:31.8px" x="19.2" y="1214.6" textLength="52.6" lengthAdjust="spacingAndGlyphs">0:12</text>
<text class="ax" style="font-size:31.8px" x="19.2" y="1393.9" textLength="52.6" lengthAdjust="spacingAndGlyphs">0:14</text>
<text class="ax" transform="translate(115.8,115.0) rotate(-90)" textLength="61" lengthAdjust="spacingAndGlyphs">Start</text>
<text class="ax" transform="translate(170.1,115.0) rotate(-90)" textLength="73.5" lengthAdjust="spacingAndGlyphs">Swim</text>
<text class="ax" transform="translate(369.3,115.0) rotate(-90)" textLength="45.3" lengthAdjust="spacingAndGlyphs">10k</text>
<text class="ax" transform="translate(568.5,115.0) rotate(-90)" textLength="45.3" lengthAdjust="spacingAndGlyphs">20k</text>
<text class="ax" transform="translate(749.6,115.0) rotate(-90)" textLength="45.3" lengthAdjust="spacingAndGlyphs">30k</text>
<text class="ax" transform="translate(948.9,115.0) rotate(-90)" textLength="45.3" lengthAdjust="spacingAndGlyphs">40k</text>
<text class="ax" transform="translate(1148.1,115.0) rotate(-90)" textLength="45.3" lengthAdjust="spacingAndGlyphs">50k</text>
<text class="ax" transform="translate(1329.2,115.0) rotate(-90)" textLength="45.3" lengthAdjust="spacingAndGlyphs">60k</text>
<text class="ax" transform="translate(1510.3,115.0) rotate(-90)" textLength="45.3" lengthAdjust="spacingAndGlyphs">70k</text>
<text class="ax" transform="translate(1745.7,115.0) rotate(-90)" textLength="36.5" lengthAdjust="spacingAndGlyphs">T2</text>
<text class="ax" transform="translate(1926.8,115.0) rotate(-90)" textLength="32.3" lengthAdjust="spacingAndGlyphs">4k</text>
<text class="ax" transform="translate(2089.8,115.0) rotate(-90)" textLength="32.3" lengthAdjust="spacingAndGlyphs">8k</text>
<text class="ax" transform="translate(2252.8,115.0) rotate(-90)" textLength="45.3" lengthAdjust="spacingAndGlyphs">12k</text>
<text class="ax" transform="translate(2379.5,115.0) rotate(-90)" textLength="45.3" lengthAdjust="spacingAndGlyphs">15k</text>
<text class="ax" transform="translate(2506.3,115.0) rotate(-90)" textLength="83.3" lengthAdjust="spacingAndGlyphs">Finish</text>
<text transform="translate(2523,1005) rotate(90)" font-size="35.5" textLength="373" lengthAdjust="spacingAndGlyphs" fill="#000">Visualization by TriRating.com</text>
</svg>
</body></html>
